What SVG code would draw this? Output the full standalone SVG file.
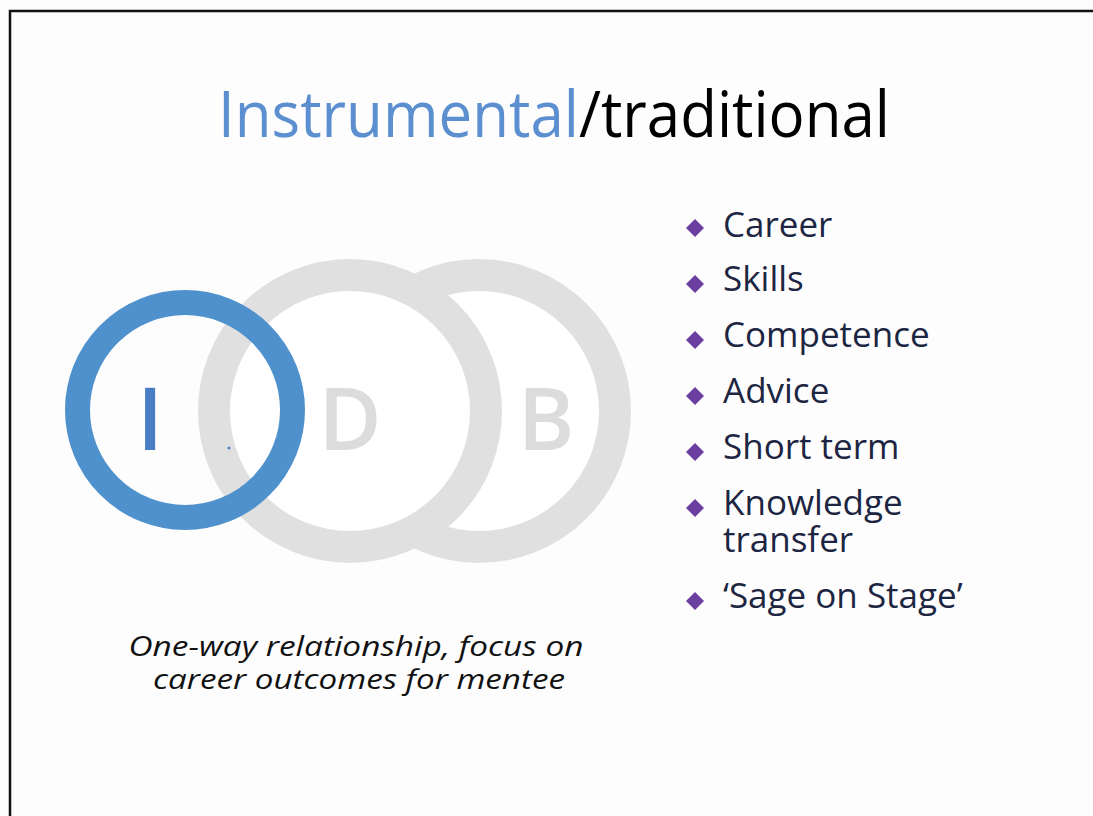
<svg xmlns="http://www.w3.org/2000/svg" width="1093" height="816" viewBox="0 0 1093 816">
<style>
.ring-g{fill:#fff;stroke:#e0e0e0;stroke-width:32}
.ring-b{fill:none;stroke:#4f91cd;stroke-width:25}
.big{font-family:"Open Sans","Liberation Sans",sans-serif;font-weight:600;font-size:86px;text-anchor:middle}
.item{font-family:"Open Sans","Liberation Sans",sans-serif;font-weight:500;font-size:35px;fill:#1c2541}
.bul{fill:#6b3fa0}
.cap{font-family:"Open Sans","Liberation Sans",sans-serif;font-style:italic;font-weight:500;font-size:27px;fill:#111;text-anchor:middle}
</style>
<rect x="0" y="0" width="1093" height="816" fill="#fdfdfd"/>
<path d="M10,816 V11 H1093" fill="none" stroke="#111" stroke-width="2.5"/>
<g id="title">
<text x="554" y="137" text-anchor="middle" font-family="Open Sans, Liberation Sans, sans-serif" font-weight="500" font-size="64" textLength="672" lengthAdjust="spacingAndGlyphs"><tspan fill="#5b8fd0">Instrumental</tspan><tspan fill="#000">/traditional</tspan></text>
</g>
<g id="circle-B">
<circle class="ring-g" cx="479" cy="411" r="136"/>
<text class="big" x="546" y="450" fill="#dcdcdc">B</text>
</g>
<g id="circle-D">
<circle class="ring-g" cx="350" cy="411" r="136"/>
<text class="big" x="350" y="450" fill="#dcdcdc">D</text>
</g>
<g id="circle-I">
<circle class="ring-b" cx="185" cy="410" r="107.5"/>
<text class="big" x="150" y="450" fill="#4a7ec4">I</text>
<circle cx="229" cy="448" r="1.5" fill="#4a7ec4"/>
</g>
<g id="connectors"></g>
<g id="bullets">
<g id="b1"><path class="bul" d="M695,219 l9,9 l-9,9 l-9,-9 z"/><text class="item" x="723" y="237">Career</text></g>
<g id="b2"><path class="bul" d="M695,275 l9,9 l-9,9 l-9,-9 z"/><text class="item" x="723" y="291">Skills</text></g>
<g id="b3"><path class="bul" d="M695,331 l9,9 l-9,9 l-9,-9 z"/><text class="item" x="723" y="347">Competence</text></g>
<g id="b4"><path class="bul" d="M695,387 l9,9 l-9,9 l-9,-9 z"/><text class="item" x="723" y="403">Advice</text></g>
<g id="b5"><path class="bul" d="M695,443 l9,9 l-9,9 l-9,-9 z"/><text class="item" x="723" y="459">Short term</text></g>
<g id="b6"><path class="bul" d="M695,499 l9,9 l-9,9 l-9,-9 z"/><text class="item" x="723" y="515">Knowledge</text><text class="item" x="723" y="552">transfer</text></g>
<g id="b7"><path class="bul" d="M695,592 l9,9 l-9,9 l-9,-9 z"/><text class="item" x="723" y="608">‘Sage on Stage’</text></g>
</g>
<g id="caption">
<text class="cap" x="356" y="656" textLength="455" lengthAdjust="spacingAndGlyphs">One-way relationship, focus on</text>
<text class="cap" x="359" y="689" textLength="412" lengthAdjust="spacingAndGlyphs">career outcomes for mentee</text>
</g>
</svg>
